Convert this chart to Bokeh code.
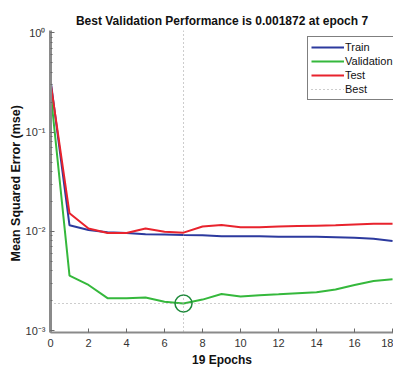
from bokeh.plotting import figure
from bokeh.models import (Range1d, FixedTicker, LogTicker, CustomJSTickFormatter,
                          Legend, LegendItem, Span, Title, ColumnDataSource)
from bokeh.embed import file_html
from bokeh.resources import INLINE

# Performance per epoch of the network training run
epochs = list(range(0, 19))
train_mse = [0.34, 0.0115, 0.0103, 0.0098, 0.0096, 0.00935, 0.0093, 0.0092, 0.00914,
             0.0089, 0.0089, 0.0089, 0.0088, 0.0088, 0.0088, 0.0087, 0.0086, 0.0084, 0.0080]
val_mse = [0.26, 0.00357, 0.00288, 0.00212, 0.00212, 0.00215, 0.00195, 0.001872, 0.00205,
           0.00233, 0.0022, 0.00227, 0.00232, 0.00238, 0.00243, 0.00259, 0.00288, 0.00316, 0.00329]
test_mse = [0.32, 0.0152, 0.0107, 0.0096, 0.0096, 0.0107, 0.0099, 0.0097, 0.0112,
            0.0116, 0.0110, 0.0110, 0.0112, 0.0113, 0.0114, 0.0115, 0.0117, 0.0119, 0.0119]
best_epoch = 7
best_perf = 0.001872
total_epochs = 19

x_ticks = [0, 2, 4, 6, 8, 10, 12, 14, 16, 18]

FONT = "Liberation Sans"

p = figure(width=393, height=367, output_backend="svg", toolbar_location=None,
           y_axis_type="log",
           x_range=Range1d(0, 18.05), y_range=Range1d(10 ** -3.02, 10 ** 0.025),
           min_border_left=50, min_border_right=0, min_border_top=30, min_border_bottom=0)
p.background_fill_color = "white"
p.border_fill_color = "white"
p.outline_line_color = None
p.xgrid.visible = False
p.ygrid.visible = False

# Title
p.title.text = "Best Validation Performance is %g at epoch %d" % (best_perf, best_epoch)
p.title.align = "center"
p.title.offset = 9
p.title.text_font = FONT
p.title.text_font_size = "12px"
p.title.text_font_style = "bold"
p.title.text_color = "#111111"
p.title.standoff = 6

# Axes
for ax in (p.xaxis[0], p.yaxis[0]):
    ax.axis_line_color = "#8a8a8a"
    ax.major_tick_line_color = "#6a6a6a"
    ax.minor_tick_line_color = "#6a6a6a"
    ax.major_label_text_font = FONT
    ax.major_label_text_font_size = "11px"
    ax.major_label_text_color = "#333333"
    ax.major_tick_in = 4
    ax.major_tick_out = 0
    ax.minor_tick_in = 2
    ax.minor_tick_out = 0

p.xaxis.axis_line_width = 2
p.yaxis.axis_line_width = 3
p.xaxis.ticker = FixedTicker(ticks=x_ticks)
p.xaxis.major_label_standoff = 6

p.yaxis.ticker = LogTicker(num_minor_ticks=10, desired_num_ticks=4)
p.yaxis.formatter = CustomJSTickFormatter(code="""
    const sup = {'-':'\u207b','0':'\u2070','1':'\u00b9','2':'\u00b2','3':'\u00b3',
                 '4':'\u2074','5':'\u2075','6':'\u2076','7':'\u2077','8':'\u2078','9':'\u2079'};
    const e = Math.round(Math.log10(tick)).toString();
    return '10' + e.split('').map(c => sup[c]).join('');
""")
p.yaxis.major_label_standoff = 5
p.yaxis.axis_label = "Mean Squared Error  (mse)"
p.yaxis.axis_label_text_font = FONT
p.yaxis.axis_label_text_font_size = "12.5px"
p.yaxis.axis_label_text_font_style = "bold"
p.yaxis.axis_label_text_color = "#111111"
p.yaxis.axis_label_standoff = 0

# X axis label placed as a centred caption under the axis
p.add_layout(Title(text="%d Epochs" % total_epochs, align="center", offset=8,
                   text_font=FONT, text_font_size="12px", text_font_style="bold",
                   text_color="#111111", standoff=2), "below")

src = ColumnDataSource(dict(epoch=epochs, train=train_mse, val=val_mse, test=test_mse))

r_train = p.line("epoch", "train", source=src, line_color="#2c3a9e", line_width=2)
r_val = p.line("epoch", "val", source=src, line_color="#35b83c", line_width=2)
r_test = p.line("epoch", "test", source=src, line_color="#e8232d", line_width=2)

# Best-epoch guides: vertical at the best epoch, horizontal at the best performance
best_style = dict(line_color="#9a9a9a", line_width=1, line_dash="1 3")
p.add_layout(Span(location=best_epoch, dimension="height", **best_style))
r_best = p.line(x=[0, total_epochs], y=[best_perf, best_perf], **best_style)

# Best validation marker
p.scatter(x=[best_epoch], y=[best_perf], size=17, marker="circle", fill_color=None,
          line_color="#1d8a3a", line_width=1.5)

legend = Legend(items=[LegendItem(label="Train", renderers=[r_train]),
                       LegendItem(label="Validation", renderers=[r_val]),
                       LegendItem(label="Test", renderers=[r_test]),
                       LegendItem(label="Best", renderers=[r_best])],
                location=(257, 232), orientation="vertical",
                border_line_color="black", border_line_width=1,
                background_fill_color="white", background_fill_alpha=1,
                label_text_font=FONT, label_text_font_size="11px", label_text_color="#111111",
                glyph_width=33, glyph_height=14, label_height=14, label_standoff=1,
                spacing=0, padding=3, margin=0)
p.add_layout(legend)

open("out.html", "w").write(file_html(p, INLINE))
